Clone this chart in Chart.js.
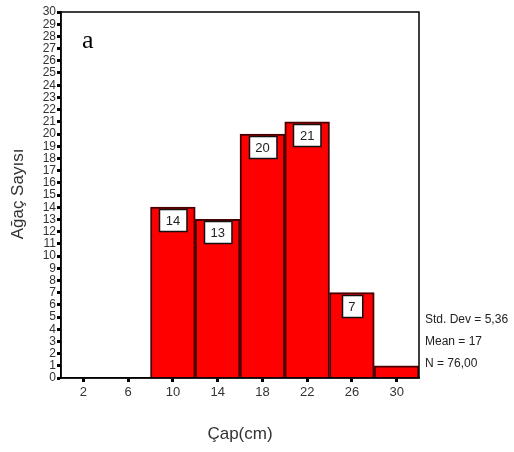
<!DOCTYPE html>
<html>
<head>
<meta charset="utf-8">
<script src="https://cdn.jsdelivr.net/npm/chart.js@4.4.1/dist/chart.umd.min.js"></script>
<style>
  html, body { margin: 0; padding: 0; background: #fff; }
  #wrap { width: 514px; height: 452px; }
</style>
</head>
<body>
<div id="wrap"><canvas id="c" width="514" height="452"></canvas></div>
<script>
// Diameter classes (cm) and tree counts per class
const diameterClasses = ['2', '6', '10', '14', '18', '22', '26', '30'];
const treeCounts = [0, 0, 14, 13, 20, 21, 7, 1];
const statLines = ['Std. Dev = 5,36', 'Mean = 17', 'N = 76,00'];
const panelLetter = 'a';
const xTitle = 'Çap(cm)';
const yTitle = 'Ağaç Sayısı';

const FONT = 'Arial, "Liberation Sans", sans-serif';

// Frame, value boxes, axis titles and summary text
const decorations = {
  id: 'decorations',
  afterDatasetsDraw(chart) {
    const ctx = chart.ctx;
    const a = chart.chartArea;
    ctx.save();
    // frame around the plot area
    ctx.strokeStyle = '#000';
    ctx.lineWidth = 1.5;
    ctx.strokeRect(a.left, a.top, a.right - a.left, a.bottom - a.top);

    // value boxes inside bar tops
    const meta = chart.getDatasetMeta(0);
    ctx.font = '13px ' + FONT;
    ctx.textAlign = 'center';
    ctx.textBaseline = 'middle';
    meta.data.forEach((bar, i) => {
      const v = treeCounts[i];
      if (v < 2) return;
      const txt = String(v);
      const w = ctx.measureText(txt).width + 13;
      const h = 22;
      const x = Math.round(bar.x - w / 2) + 0.5;
      const y = Math.round(bar.y + 2) + 0.5;
      ctx.fillStyle = '#fff';
      ctx.fillRect(x, y, w, h);
      ctx.strokeStyle = '#111';
      ctx.lineWidth = 1.5;
      ctx.strokeRect(x, y, w, h);
      ctx.fillStyle = '#222';
      ctx.fillText(txt, bar.x, y + h / 2 + 0.5);
    });

    // panel letter
    ctx.font = '26px "Liberation Serif", "Times New Roman", serif';
    ctx.fillStyle = '#000';
    ctx.textAlign = 'left';
    ctx.textBaseline = 'alphabetic';
    ctx.fillText(panelLetter, 82, 48);

    // summary statistics
    ctx.font = '12px ' + FONT;
    ctx.fillStyle = '#222';
    ctx.textBaseline = 'middle';
    const ys = [320, 342, 364];
    statLines.forEach((s, i) => ctx.fillText(s, a.right + 6, ys[i]));

    // axis titles
    ctx.font = '17px ' + FONT;
    ctx.fillStyle = '#333';
    ctx.textAlign = 'center';
    ctx.fillText(xTitle, (a.left + a.right) / 2, 434);
    ctx.translate(18, 194);
    ctx.rotate(-Math.PI / 2);
    ctx.fillText(yTitle, 0, 0);
    ctx.restore();
  }
};

new Chart(document.getElementById('c'), {
  type: 'bar',
  data: {
    labels: diameterClasses,
    datasets: [{
      data: treeCounts,
      backgroundColor: '#ff0000',
      borderColor: '#4a0000',
      borderWidth: 2,
      barPercentage: 1,
      categoryPercentage: 1
    }]
  },
  options: {
    responsive: false,
    animation: false,
    devicePixelRatio: 1,
    layout: { padding: { left: 0, top: 12, right: 95, bottom: 0 } },
    plugins: {
      legend: { display: false },
      tooltip: { enabled: false }
    },
    scales: {
      x: {
        offset: true,
        grid: { drawOnChartArea: false, offset: false, tickLength: 4, tickWidth: 3, tickColor: '#000' },
        border: { color: '#000', width: 1.5 },
        ticks: { color: '#333', font: { size: 13, family: FONT }, padding: 3, maxRotation: 0 },
        afterFit(scale) { scale.height = 74; }
      },
      y: {
        min: 0,
        max: 30,
        grid: { drawOnChartArea: false, tickLength: 4, tickWidth: 3, tickColor: '#000' },
        border: { color: '#000', width: 1.5 },
        ticks: {
          stepSize: 1,
          autoSkip: false,
          color: '#333',
          padding: 1,
          font: { size: 12, family: FONT }
        },
        afterFit(scale) { scale.width = 61; }
      }
    }
  },
  plugins: [decorations]
});
</script>
</body>
</html>
